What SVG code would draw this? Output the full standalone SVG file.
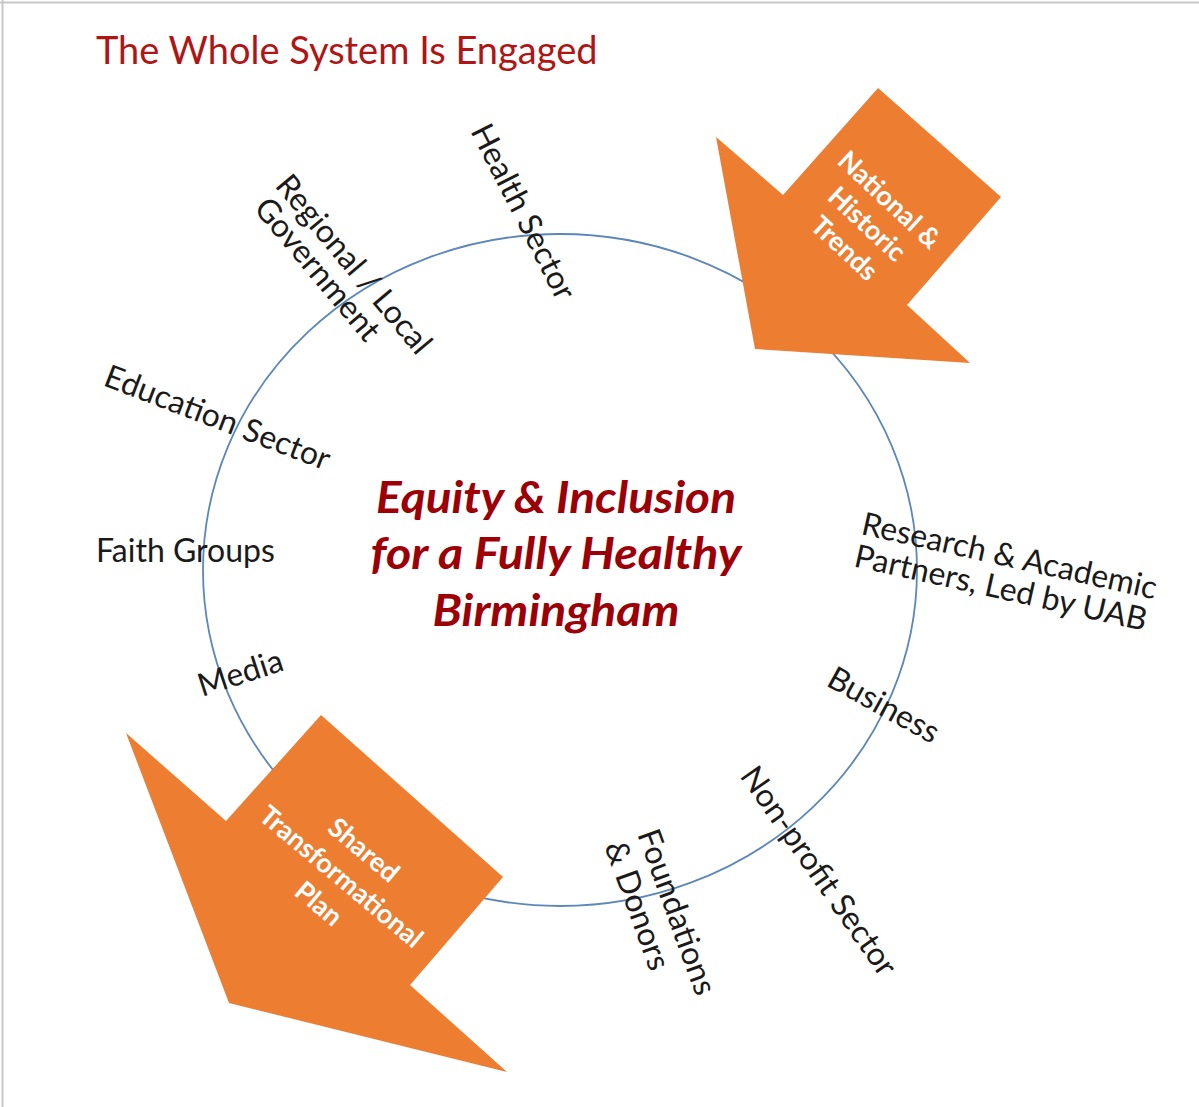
<svg xmlns="http://www.w3.org/2000/svg" width="1199" height="1107" viewBox="0 0 1199 1107">
  <style>
    .frame { stroke: #c8c8c8; stroke-width: 2; fill: none; }
    .ring { fill: none; stroke: #5b87b9; stroke-width: 1.8; }
    .title { font-family: Lato, "Open Sans", "Liberation Sans", sans-serif; font-size: 38px; fill: #b01515; }
    .core { font-family: Lato, "Open Sans", "Liberation Sans", sans-serif; font-size: 44px; font-weight: bold; font-style: italic; fill: #9c0006; text-anchor: middle; }
    .lbl { font-family: Lato, "Open Sans", "Liberation Sans", sans-serif; font-size: 32px; fill: #1a1a1a; }
    .arrow { fill: #ed7d31; }
    .atext { font-family: Lato, "Open Sans", "Liberation Sans", sans-serif; font-size: 27px; font-weight: bold; fill: #ffffff; text-anchor: middle; }
  </style>

  <rect width="1199" height="1107" fill="#ffffff"/>
  <line class="frame" x1="0" y1="2.5" x2="1199" y2="2.5"/>
  <line class="frame" x1="2.5" y1="0" x2="2.5" y2="1107"/>

  <g id="title">
    <text class="title" x="96" y="64">The Whole System Is Engaged</text>
  </g>

  <!-- the ring that links every sector -->
  <g id="connectors">
    <ellipse class="ring" cx="560" cy="570" rx="357" ry="336"/>
  </g>

  <g id="core">
    <text class="core" x="556" y="513" textLength="360" lengthAdjust="spacingAndGlyphs">Equity &amp; Inclusion</text>
    <text class="core" x="556" y="569" textLength="371" lengthAdjust="spacingAndGlyphs">for a Fully Healthy</text>
    <text class="core" x="556" y="626" textLength="247" lengthAdjust="spacingAndGlyphs">Birmingham</text>
  </g>

  <g id="health-sector">
    <text class="lbl" transform="translate(470,131) rotate(63)">Health Sector</text>
  </g>

  <g id="government">
    <text class="lbl" transform="translate(274,186) rotate(50)"><tspan x="0" y="0">Regional / Local</tspan><tspan x="4" y="31">Government</tspan></text>
  </g>

  <g id="education-sector">
    <text class="lbl" transform="translate(102,385) rotate(21)">Education Sector</text>
  </g>

  <g id="faith-groups">
    <text class="lbl" x="96" y="562">Faith Groups</text>
  </g>

  <g id="media">
    <text class="lbl" transform="translate(202,697) rotate(-18)">Media</text>
  </g>

  <g id="research">
    <text class="lbl" transform="translate(860,534) rotate(12.5)"><tspan x="0" y="0">Research &amp; Academic</tspan><tspan x="0" y="33">Partners, Led by UAB</tspan></text>
  </g>

  <g id="business">
    <text class="lbl" transform="translate(825,685) rotate(29)">Business</text>
  </g>

  <g id="non-profit">
    <text class="lbl" transform="translate(739,776) rotate(55)">Non-profit Sector</text>
  </g>

  <g id="foundations">
    <text class="lbl" transform="translate(637,834) rotate(70)"><tspan x="0" y="0">Foundations</tspan><tspan x="0" y="35">&amp; Donors</tspan></text>
  </g>

  <g id="national-trends">
    <polygon class="arrow" points="755,349 716,137 783,195 878,88 1001,197 907,305 970,363"/>
    <text class="atext" transform="translate(866,225) rotate(43)"><tspan x="0" y="-25">National &amp;</tspan><tspan x="0" y="8">Historic</tspan><tspan x="0" y="41">Trends</tspan></text>
  </g>

  <g id="shared-plan">
    <polygon class="arrow" points="229,1003 126,733 226,821 321,715 503,877 410,985 507,1072"/>
    <text class="atext" transform="translate(341,877) rotate(40)"><tspan x="0" y="-26">Shared</tspan><tspan x="0" y="9">Transformational</tspan><tspan x="0" y="44">Plan</tspan></text>
  </g>
</svg>
